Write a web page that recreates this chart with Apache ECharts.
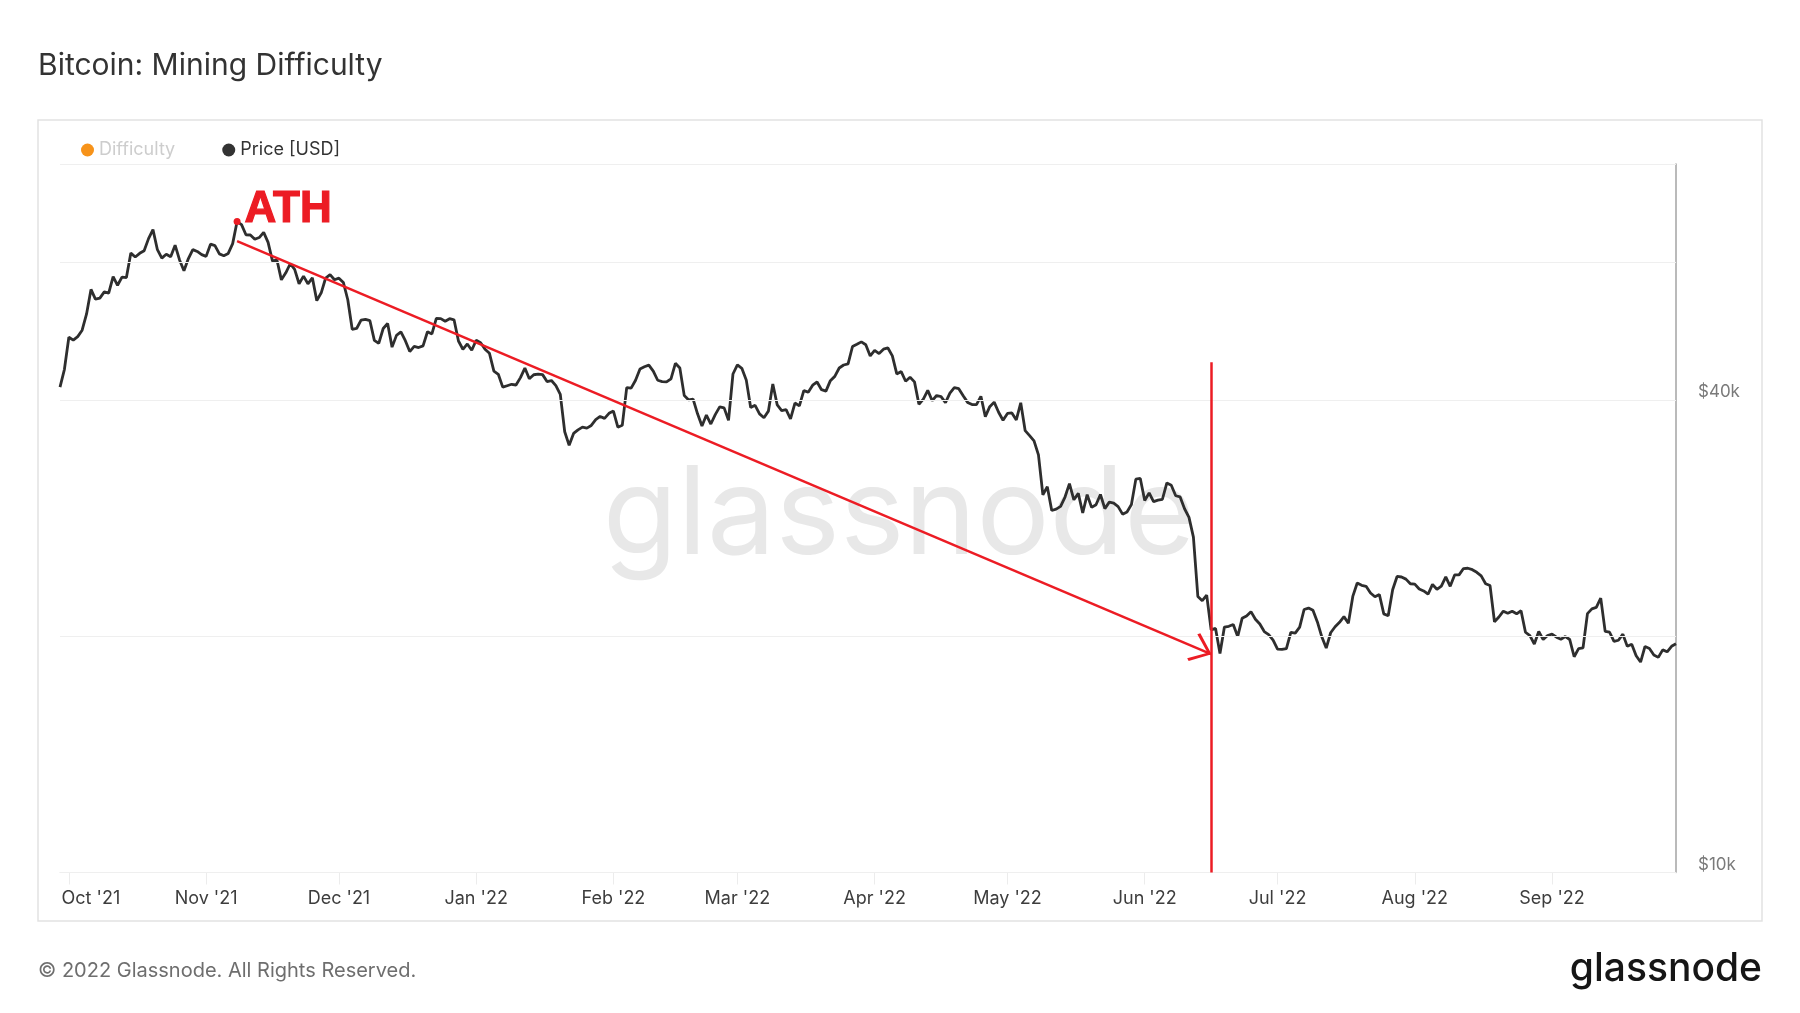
<!DOCTYPE html>
<html>
<head>
<meta charset="utf-8">
<script src="https://cdn.jsdelivr.net/npm/echarts/dist/echarts.min.js"></script>
<style>
html,body{margin:0;padding:0;background:#fff;}
#chart{width:1800px;height:1013px;}
</style>
</head>
<body>
<div id="chart"></div>
<script>
// ---------- DATA ----------
// Daily BTC price [USD], one value per day starting 2021-09-29
const START_DATE = [2021, 8, 29];
const priceOct21 = [41564, 43791, // Sep 29, Sep 30
  48116, 47711, 48200, 49113, 51515, 55362, 53805, 53968, 54969, 54772,
  57485, 56041, 57401, 57322, 61593, 60892, 61553, 62026, 64262, 65993,
  62210, 60693, 61393, 60931, 63039, 60364, 58483, 60622, 62228, 61888, 61319];
const priceNov21 = [61004, 63227, 62970, 61453, 61126, 61528, 63327, 67566, 66971, 64996,
  64950, 64155, 64469, 65466, 63557, 60162, 60369, 56942, 58120, 59698,
  58730, 56289, 57570, 56281, 57275, 53570, 54816, 57248, 57807, 56951];
const priceDec21 = [57229, 56508, 53714, 49254, 49369, 50582, 50701, 50505, 47673, 47244,
  49363, 50098, 46738, 48378, 48864, 47632, 46132, 46835, 46682, 46915,
  48896, 48588, 50838, 50821, 50429, 50809, 50641, 47588, 46444, 47179, 46306];
const priceJan22 = [47686, 47345, 46459, 45897, 43569, 43160, 41558, 41734, 41912, 41821,
  42736, 43949, 42592, 43099, 43177, 43113, 42250, 42375, 41744, 40680,
  36458, 35031, 36276, 36654, 36954, 36852, 37138, 37784, 38138, 37917, 38483];
const priceFeb22 = [38743, 36952, 37154, 41501, 41441, 42412, 43841, 44118, 44339, 43565,
  42408, 42245, 42197, 42586, 44575, 43961, 40538, 40031, 40126, 38431,
  37075, 38287, 37296, 38332, 39215, 39106, 37710, 43194];
const priceMar22 = [44355, 43925, 42452, 39138, 39400, 38420, 37989, 38731, 41942, 39439,
  38795, 38904, 37850, 39666, 39339, 41143, 40951, 41802, 42191, 41247,
  41078, 42358, 42893, 43960, 44349, 44500, 46820, 47128, 47466, 47062, 45539];
const priceApr22 = [46282, 45868, 46453, 46622, 45555, 43207, 43503, 42287, 42782, 42207,
  39521, 40127, 41166, 39936, 40553, 40424, 39716, 40826, 41502, 41374,
  40527, 39740, 39486, 39469, 40458, 38118, 39241, 39773, 38609, 37714];
const priceMay22 = [38469, 38529, 37750, 39698, 36575, 36040, 35501, 34059, 30296, 31022,
  28936, 29047, 29283, 30101, 31305, 29862, 30425, 28720, 30314, 29200,
  29432, 30323, 29098, 29655, 29562, 29267, 28627, 28814, 29445, 31726, 31792];
const priceJun22 = [29799, 30467, 29704, 29832, 29906, 31370, 31155, 30214, 30112, 29083,
  28360, 26762, 22487, 22206, 22573, 20381, 20471, 19017, 20553, 20599,
  20710, 19987, 21085, 21231, 21502, 21028, 20735, 20281, 20105, 19785];
const priceJul22 = [19269, 19243, 19297, 20231, 20190, 20548, 21638, 21731, 21592, 20861,
  19970, 19323, 20212, 20569, 20837, 21190, 20779, 22485, 23390, 23231,
  23165, 22714, 22466, 22609, 21362, 21240, 22931, 23843, 23805, 23656, 23337];
const priceAug22 = [23314, 22979, 22847, 22630, 23290, 22962, 23175, 23810, 23165, 23947,
  23957, 24403, 24424, 24320, 24136, 23884, 23336, 23213, 20877, 21166,
  21534, 21398, 21529, 21368, 21560, 20241, 20037, 19556, 20285, 19812, 20050];
const priceSep22 = [20131, 19951, 19832, 19987, 19813, 18838, 19291, 19330, 21381, 21680,
  21770, 22370, 20296, 20242, 19702, 19772, 20127, 19420, 19544, 18891,
  18547, 19414, 19298, 18937, 18803, 19222, 19111, 19426, 19573];

const price = [].concat(priceOct21, priceNov21, priceDec21, priceJan22, priceFeb22, priceMar22,
  priceApr22, priceMay22, priceJun22, priceJul22, priceAug22, priceSep22);

// Difficulty series is switched off in the original (no values drawn)
const difficulty = [];

// y axis grid values and labels
const Y_GRID = [10000, 20000, 40000, 60000, 80000];
const Y_LABELS = {10000: '$10k', 40000: '$40k'};
const MONTHS = ['Jan','Feb','Mar','Apr','May','Jun','Jul','Aug','Sep','Oct','Nov','Dec'];

// annotations (in data space)
const ATH_DATE = '2021-11-08';
const ARROW_FROM = ['2021-11-08', 63800];
const ARROW_TO = ['2022-06-16', 18980];
const VLINE = ['2022-06-16', 10000, 44700];

// ---------- categories ----------
const dates = price.map((_, i) => {
  const d = new Date(Date.UTC(START_DATE[0], START_DATE[1], START_DATE[2] + i));
  return d.toISOString().slice(0, 10);
});
const athIdx = dates.indexOf(ATH_DATE);
const isMonthStart = (i, v) => v.slice(8) === '01';
const firstLabel = dates.find(v => v.slice(8) === '01');

const RED = '#ec1c24';
const chevron = 'path://M15,0 L30,19 L28,21.5 L15,4.5 L2,21.5 L0,19 Z';

const chart = echarts.init(document.getElementById('chart'), null, {renderer: 'canvas'});
chart.setOption({
  animation: false,
  textStyle: {fontFamily: 'Inter'},
  title: [
    {text: 'Bitcoin: Mining Difficulty', left: 33, top: 46,
     textStyle: {fontFamily: 'Inter', fontSize: 30, fontWeight: 'normal', color: '#333'}},
    {text: '© 2022 Glassnode. All Rights Reserved.', left: 33, top: 956,
     textStyle: {fontFamily: 'Inter', fontSize: 20, fontWeight: 'normal', color: '#6e6e6e'}},
    {text: 'glassnode', right: 33, top: 945,
     textStyle: {fontFamily: 'Inter', fontSize: 39, fontWeight: 500, color: '#161616'}}
  ],
  graphic: [
    {type: 'rect', silent: true, z: 0,
     shape: {x: 38, y: 120, width: 1724, height: 801},
     style: {fill: null, stroke: '#e2e2e2', lineWidth: 1.5}},
    {type: 'text', silent: true, z: 0, x: 899, y: 517,
     style: {text: 'glassnode', font: '400 122px Inter', fill: '#e8e8e8',
             textAlign: 'center', textVerticalAlign: 'middle'}}
  ],
  legend: {
    left: 76, top: 136, icon: 'circle', itemWidth: 13, itemHeight: 13, itemGap: 47,
    selectedMode: false,
    textStyle: {fontFamily: 'Inter', fontSize: 18},
    data: [
      {name: 'Difficulty', textStyle: {color: '#cdcdcd'}},
      {name: 'Price [USD]', textStyle: {color: '#333'}}
    ]
  },
  grid: {left: 60, right: 124, top: 164, bottom: 140.5, containLabel: false},
  xAxis: {
    type: 'category', data: dates, boundaryGap: false,
    axisLine: {onZero: false, lineStyle: {color: '#e6e6e6'}},
    axisTick: {interval: isMonthStart, length: 12, lineStyle: {color: '#ececec'}},
    axisLabel: {
      interval: isMonthStart, margin: 17, fontSize: 18, color: '#3d3d3d', fontFamily: 'Inter',
      formatter: v => {
        const t = MONTHS[+v.slice(5, 7) - 1] + " '" + v.slice(2, 4);
        return v === firstLabel ? '{first|' + t + '}' : t;
      },
      rich: {first: {padding: [0, 0, 0, 44], fontSize: 18, color: '#3d3d3d', fontFamily: 'Inter'}}
    },
    splitLine: {show: false}
  },
  yAxis: {
    type: 'log', logBase: 2, min: 10000, max: 80000, position: 'right',
    axisLine: {show: true, lineStyle: {color: '#a3a3a3', width: 1.5}},
    axisTick: {show: false}, axisLabel: {show: false}, splitLine: {show: false}
  },
  series: [
    {
      name: '_grid', type: 'line', data: [], silent: true,
      markLine: {
        silent: true, symbol: ['none', 'none'], animation: false,
        lineStyle: {color: '#efefef', width: 1, type: 'solid'},
        label: {show: false},
        data: Y_GRID.map(v => ({
          yAxis: v,
          label: Y_LABELS[v] ? {
            show: true, position: 'end', distance: 22,
            formatter: '{v|' + Y_LABELS[v] + '}',
            rich: {v: {padding: [0, 0, 16, 0], fontSize: 17, color: '#7a7a7a', fontFamily: 'Inter'}}
          } : {show: false}
        }))
      }
    },
    {
      name: 'Difficulty', type: 'line', data: difficulty, showSymbol: false,
      itemStyle: {color: '#f7931a'}, lineStyle: {color: '#f7931a'}
    },
    {
      name: 'Price [USD]', type: 'line', data: price, symbol: 'none', z: 3,
      itemStyle: {color: '#333'},
      lineStyle: {color: '#2e2e2e', width: 2.8},
      markPoint: {
        silent: true, symbol: 'circle', symbolSize: 7,
        itemStyle: {color: RED},
        label: {show: true, position: 'right', distance: 4, offset: [0, -12],
                formatter: 'ATH', color: RED, fontSize: 44, fontWeight: 'bold',
                fontFamily: 'Liberation Sans', textBorderColor: RED, textBorderWidth: 1.2},
        data: [{coord: [dates[athIdx], price[athIdx]]}]
      },
      markLine: {
        silent: true, animation: false, symbol: ['none', 'none'],
        lineStyle: {color: RED, width: 2.5, type: 'solid'},
        label: {show: false},
        data: [
          [{coord: ARROW_FROM, symbol: 'none'},
           {coord: ARROW_TO, symbol: chevron, symbolSize: [30, 21], symbolOffset: [0, 10]}],
          [{coord: [VLINE[0], VLINE[1]], symbol: 'none'},
           {coord: [VLINE[0], VLINE[2]], symbol: 'none'}]
        ]
      }
    }
  ]
});
</script>
</body>
</html>
